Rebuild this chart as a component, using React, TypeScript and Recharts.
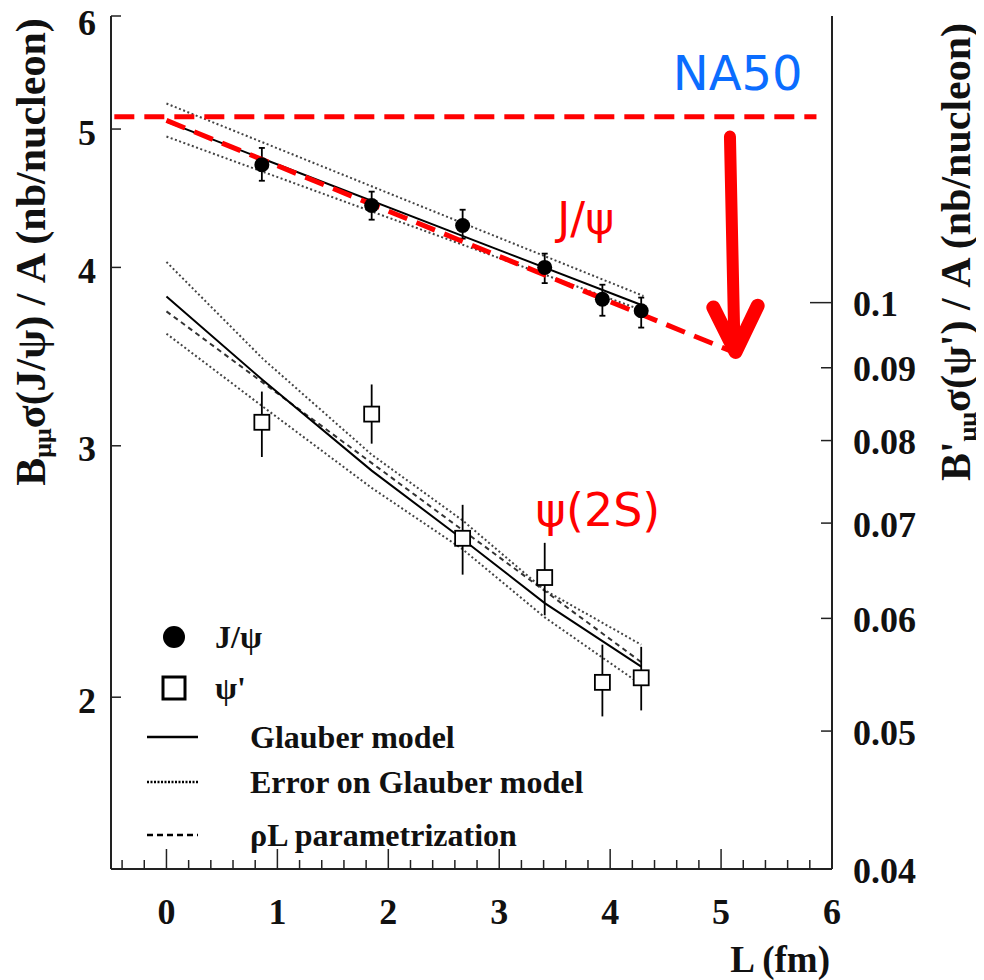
import React from 'react';
import {
  ComposedChart,
  XAxis,
  YAxis,
  Line,
  Scatter,
  ErrorBar,
  Legend,
  ReferenceDot,
} from 'recharts';

// Mesures J/psi (axe gauche, nb/nucleon)
const jpsiL = [0.86, 1.85, 2.67, 3.41, 3.93, 4.28];
const jpsiSigma = [4.72, 4.42, 4.28, 4.0, 3.8, 3.73];
const jpsiErrLow = [0.12, 0.1, 0.09, 0.1, 0.1, 0.1];
const jpsiErrHigh = [0.13, 0.1, 0.11, 0.09, 0.09, 0.08];

// Mesures psi' (axe droit)
const psiL = [0.86, 1.85, 2.67, 3.41, 3.93, 4.28];
const psiSigma = [0.0824, 0.0835, 0.0683, 0.0641, 0.0541, 0.0545];
const psiErrLow = [0.0045, 0.0039, 0.0039, 0.0038, 0.0029, 0.0028];
const psiErrHigh = [0.0042, 0.0041, 0.0038, 0.0037, 0.0034, 0.0028];

// Modele de Glauber J/psi + erreur
const glauberJpsiL = [0, 4.3];
const glauberJpsi = [5.06, 3.76];
const glauberJpsiUp = [5.21, 3.82];
const glauberJpsiDown = [4.94, 3.73];

// Modele de Glauber psi' + erreur + parametrisation rho L
const glauberPsiL = [0, 0.87, 1.85, 2.67, 3.41, 4.28];
const glauberPsi = [0.101, 0.0882, 0.0762, 0.0682, 0.0615, 0.0555];
const glauberPsiUp = [0.1068, 0.0913, 0.0782, 0.0703, 0.0628, 0.0575];
const glauberPsiDown = [0.0951, 0.0845, 0.0741, 0.0671, 0.0601, 0.0539];
const rhoLPsiL = [0, 4.28];
const rhoLPsi = [0.0986, 0.0559];

// Annotations NA50 (rouge)
const na50FlatL = [-0.47, 5.86];
const na50Flat = [5.1, 5.1];
const na50SlopeL = [0, 5.11];
const na50Slope = [5.07, 3.49];
const arrowShaftL = [5.08, 5.12];
const arrowShaft = [4.94, 3.54];
const arrowHeadL = [4.93, 5.13, 5.33];
const arrowHead = [3.75, 3.49, 3.76];

// Graduations
const xTicks = [
  -0.4, -0.2, 0, 0.2, 0.4, 0.6, 0.8, 1, 1.2, 1.4, 1.6, 1.8, 2, 2.2, 2.4, 2.6, 2.8,
  3, 3.2, 3.4, 3.6, 3.8, 4, 4.2, 4.4, 4.6, 4.8, 5, 5.2, 5.4, 5.6, 5.8, 6,
];
const leftTicks = [2, 3, 4, 5, 6];
const rightTicks = [0.04, 0.05, 0.06, 0.07, 0.08, 0.09, 0.1];

const SERIF = '"Liberation Serif", "Times New Roman", serif';
const SANS = '"DejaVu Sans", sans-serif';
const AXIS = '#222';
const TICK_FONT = 36;
const DOT_GREY = '#444';

const pts = (xs: number[], ys: number[]) => xs.map((x, i) => ({ x, y: ys[i] }));

const jpsiData = jpsiL.map((x, i) => ({ x, y: jpsiSigma[i], err: [jpsiErrLow[i], jpsiErrHigh[i]] }));
const psiData = psiL.map((x, i) => ({ x, y: psiSigma[i], err: [psiErrLow[i], psiErrHigh[i]] }));

function isMajor(v: number) {
  return Math.abs(v - Math.round(v)) < 1e-6;
}

const XTick = ({ x, y, payload }: any) => {
  const major = isMajor(payload.value);
  return (
    <g>
      <line x1={x} x2={x} y1={y} y2={y - (major ? 20 : 9)} stroke={AXIS} strokeWidth={1.5} />
      {major && payload.value >= 0 && (
        <text x={x} y={y + 42} dy="0.35em" textAnchor="middle" fontFamily={SERIF} fontWeight="bold" fontSize={TICK_FONT} fill="#111">
          {payload.value}
        </text>
      )}
    </g>
  );
};

const LeftTick = ({ x, y, payload }: any) => {
  // le "6" est au ras du cadre : on le descend un peu pour qu'il reste visible
  const shift = payload.value === 6 ? 6 : 3;
  return (
    <g>
      <line x1={x} x2={x + 10} y1={y} y2={y} stroke={AXIS} strokeWidth={1.5} />
      <text x={x - 15} y={y + shift} dy="0.35em" textAnchor="end" fontFamily={SERIF} fontWeight="bold" fontSize={TICK_FONT} fill="#111">
        {payload.value}
      </text>
    </g>
  );
};

const RightTick = ({ x, y, payload }: any) => {
  const len = payload.value === 0.1 ? 22 : 11;
  return (
    <g>
      <line x1={x} x2={x - len} y1={y} y2={y} stroke={AXIS} strokeWidth={1.5} />
      <text x={x + 21} y={y + 1} dy="0.35em" textAnchor="start" fontFamily={SERIF} fontWeight="bold" fontSize={TICK_FONT} fill="#111">
        {payload.value}
      </text>
    </g>
  );
};

const leftTitle = ({ viewBox }: any) => {
  const cx = viewBox.x + 14;
  const cy = viewBox.y + 236;
  return (
    <text x={cx} y={cy} transform={`rotate(-90, ${cx}, ${cy})`} textAnchor="middle" fontFamily={SERIF} fontWeight="bold" fontSize={42} fill="#111">
      <tspan>B</tspan>
      <tspan fontSize={26} dy={6}>μμ</tspan>
      <tspan dy={-6}>σ(J/ψ) / A (nb/nucleon)</tspan>
    </text>
  );
};

const rightTitle = ({ viewBox }: any) => {
  const cx = viewBox.x + 138;
  const cy = viewBox.y + 236;
  return (
    <text x={cx} y={cy} transform={`rotate(-90, ${cx}, ${cy})`} textAnchor="middle" fontFamily={SERIF} fontWeight="bold" fontSize={42} fill="#111">
      <tspan>B'</tspan>
      <tspan fontSize={26} dy={6}>μμ</tspan>
      <tspan dy={-6}>σ(ψ') / A (nb/nucleon)</tspan>
    </text>
  );
};

const xTitle = ({ viewBox }: any) => (
  <text x={viewBox.x + viewBox.width - 2} y={viewBox.y + 103} textAnchor="end" fontFamily={SERIF} fontWeight="bold" fontSize={37} fill="#111">
    L (fm)
  </text>
);

const legendItems = [
  { kind: 'circle', label: 'J/ψ' },
  { kind: 'square', label: "ψ'" },
  { kind: 'solid', label: 'Glauber model' },
  { kind: 'dotted', label: 'Error on Glauber model' },
  { kind: 'dashed', label: 'ρL parametrization' },
];
const legendRows = [29, 80, 129, 174, 227];

const renderLegend = () => (
  <svg width={480} height={260}>
    {legendItems.map((item, i) => {
      const y = legendRows[i];
      const isMarker = item.kind === 'circle' || item.kind === 'square';
      return (
        <g key={item.label}>
          {item.kind === 'circle' && <circle cx={44} cy={y} r={11} fill="#000" />}
          {item.kind === 'square' && <rect x={33} y={y - 11} width={22} height={22} fill="#fff" stroke="#000" strokeWidth={3} />}
          {item.kind === 'solid' && <line x1={17} x2={68} y1={y} y2={y} stroke="#000" strokeWidth={2.5} />}
          {item.kind === 'dotted' && <line x1={17} x2={68} y1={y} y2={y} stroke="#000" strokeWidth={2.5} strokeDasharray="2 1.5" />}
          {item.kind === 'dashed' && <line x1={17} x2={68} y1={y} y2={y} stroke="#000" strokeWidth={2.5} strokeDasharray="6 4" />}
          <text x={isMarker ? 85 : 120} y={y} dy="0.35em" fontFamily={SERIF} fontWeight="bold" fontSize={32} fill="#111">
            {item.label}
          </text>
        </g>
      );
    })}
  </svg>
);

const circleShape = (props: any) => <circle cx={props.cx} cy={props.cy} r={7.5} fill="#000" />;
const squareShape = (props: any) => (
  <rect x={props.cx - 7.5} y={props.cy - 7.5} width={15} height={15} fill="#fff" stroke="#000" strokeWidth={1.8} />
);

const lineCommon = {
  dataKey: 'y',
  dot: false,
  activeDot: false,
  isAnimationActive: false,
  type: 'linear' as const,
  legendType: 'none' as const,
};

export default function App() {
  return (
    <ComposedChart
      width={976}
      height={972}
      margin={{ top: 8, right: 52, bottom: 51, left: 23 }}
      style={{ background: '#fff' }}
    >
      <XAxis
        dataKey="x"
        type="number"
        domain={[-0.5, 6]}
        ticks={xTicks}
        interval={0}
        allowDataOverflow
        tickSize={0}
        tickMargin={0}
        tickLine={false}
        tick={XTick}
        height={60}
        axisLine={{ stroke: AXIS, strokeWidth: 2 }}
        label={xTitle}
      />
      <XAxis
        xAxisId="top"
        orientation="top"
        type="number"
        domain={[-0.5, 6]}
        allowDataOverflow
        height={0}
        tick={false}
        tickLine={false}
        axisLine={{ stroke: AXIS, strokeWidth: 2 }}
      />
      <YAxis
        yAxisId="L"
        dataKey="y"
        scale="log"
        type="number"
        domain={[1.516, 6]}
        allowDataOverflow
        ticks={leftTicks}
        interval={0}
        tickSize={0}
        tickMargin={0}
        tickLine={false}
        tick={LeftTick}
        width={80}
        axisLine={{ stroke: AXIS, strokeWidth: 2 }}
        label={leftTitle}
      />
      <YAxis
        yAxisId="R"
        orientation="right"
        dataKey="y"
        scale="log"
        type="number"
        domain={[0.04, 0.159]}
        allowDataOverflow
        ticks={rightTicks}
        interval={0}
        tickSize={0}
        tickMargin={0}
        tickLine={false}
        tick={RightTick}
        width={100}
        axisLine={{ stroke: AXIS, strokeWidth: 2 }}
        label={rightTitle}
      />

      {/* psi' : modeles */}
      <Line {...lineCommon} yAxisId="R" data={pts(glauberPsiL, glauberPsiUp)} stroke={DOT_GREY} strokeWidth={2} strokeDasharray="2 2.5" />
      <Line {...lineCommon} yAxisId="R" data={pts(glauberPsiL, glauberPsiDown)} stroke={DOT_GREY} strokeWidth={2} strokeDasharray="2 2.5" />
      <Line {...lineCommon} yAxisId="R" data={pts(rhoLPsiL, rhoLPsi)} stroke="#333" strokeWidth={2} strokeDasharray="5 4" />
      <Line {...lineCommon} yAxisId="R" data={pts(glauberPsiL, glauberPsi)} stroke="#000" strokeWidth={2} />

      {/* J/psi : modeles */}
      <Line {...lineCommon} yAxisId="L" data={pts(glauberJpsiL, glauberJpsiUp)} stroke={DOT_GREY} strokeWidth={2} strokeDasharray="2 2.5" />
      <Line {...lineCommon} yAxisId="L" data={pts(glauberJpsiL, glauberJpsiDown)} stroke={DOT_GREY} strokeWidth={2} strokeDasharray="2 2.5" />
      <Line {...lineCommon} yAxisId="L" data={pts(glauberJpsiL, glauberJpsi)} stroke="#000" strokeWidth={2} />

      <Scatter yAxisId="R" data={psiData} dataKey="y" shape={squareShape} isAnimationActive={false} legendType="none">
        <ErrorBar dataKey="err" direction="y" width={0} stroke="#000" strokeWidth={1.8} />
      </Scatter>
      <Scatter yAxisId="L" data={jpsiData} dataKey="y" shape={circleShape} isAnimationActive={false} legendType="none">
        <ErrorBar dataKey="err" direction="y" width={3} stroke="#000" strokeWidth={1.8} />
      </Scatter>

      {/* NA50 */}
      <Line {...lineCommon} yAxisId="L" data={pts(na50FlatL, na50Flat)} stroke="#ff0000" strokeWidth={5} strokeDasharray="20 10" />
      <Line {...lineCommon} yAxisId="L" data={pts(na50SlopeL, na50Slope)} stroke="#ff0000" strokeWidth={5} strokeDasharray="20 10" />
      <Line {...lineCommon} yAxisId="L" data={pts(arrowShaftL, arrowShaft)} stroke="#ff0000" strokeWidth={12} strokeLinecap="round" />
      <Line {...lineCommon} yAxisId="L" data={pts(arrowHeadL, arrowHead)} stroke="#ff0000" strokeWidth={14} strokeLinecap="round" strokeLinejoin="round" />

      <ReferenceDot yAxisId="L" x={5.15} y={5.47} r={0} stroke="none" fill="none"
        label={{ value: 'NA50', position: 'center', fill: '#0b6dff', fontSize: 48, fontFamily: SANS }} />
      <ReferenceDot yAxisId="L" x={3.78} y={4.33} r={0} stroke="none" fill="none"
        label={{ value: 'J/ψ', position: 'center', fill: '#ff0000', fontSize: 44, fontFamily: SANS }} />
      <ReferenceDot yAxisId="R" x={3.89} y={0.0715} r={0} stroke="none" fill="none"
        label={{ value: 'ψ(2S)', position: 'center', fill: '#ff0000', fontSize: 46, fontFamily: SANS }} />

      <Legend
        layout="vertical"
        align="center"
        verticalAlign="middle"
        content={renderLegend}
        wrapperStyle={{ position: 'absolute', left: 122, top: 600, width: 480, height: 260 }}
      />
    </ComposedChart>
  );
}
